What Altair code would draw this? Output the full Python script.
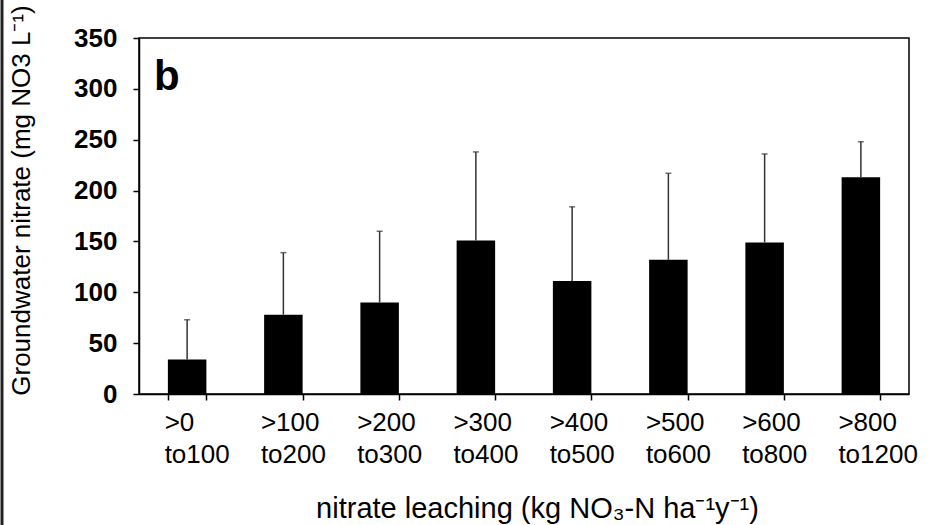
import altair as alt
import pandas as pd

categories = [">0|to100", ">100|to200", ">200|to300", ">300|to400",
              ">400|to500", ">500|to600", ">600|to800", ">800|to1200"]
means = [34, 78, 90, 151, 111, 132, 149, 213]
upper = [73, 139, 160, 238, 184, 217, 236, 248]
panel_label = ["b"]

df = pd.DataFrame({"cat": categories, "mean": means, "upper": upper})

W, H = 770, 356
FONT = "Liberation Sans"

x = alt.X("cat:N", sort=categories,
          scale=alt.Scale(paddingInner=0.6, paddingOuter=0.3),
          axis=alt.Axis(title="nitrate leaching (kg NO\u2083-N ha\u207b\u00b9y\u207b\u00b9)",
                        labelExpr="split(datum.label, '|')",
                        labelAngle=0, labelFontSize=26, labelLineHeight=32,
                        labelPadding=9, labelBaseline="top",
                        labelAlign="left", labelOffset=-23,
                        tickBand="extent", tickSize=6,
                        titleFontSize=29, titleFontWeight="normal",
                        titleX=398, titleY=123, titleBaseline="alphabetic",
                        titleAlign="center"))
y = alt.Y("mean:Q",
          scale=alt.Scale(domain=[0, 350]),
          axis=alt.Axis(title="Groundwater nitrate (mg NO3 L\u207b\u00b9)",
                        values=[0, 50, 100, 150, 200, 250, 300, 350],
                        labelFontSize=26, labelFontWeight="bold",
                        labelPadding=16, tickSize=6, grid=False,
                        titleFontSize=26, titleFontWeight="normal",
                        titleX=-118, titleY=162, titleAngle=-90,
                        titleAlign="center", titleBaseline="middle"))

bars = alt.Chart(df).mark_bar(color="black").encode(x=x, y=y)
err = alt.Chart(df).mark_rule(color="#333", strokeWidth=1.5).encode(
    x=alt.X("cat:N", sort=categories), y="mean:Q", y2="upper:Q")
caps = alt.Chart(df).mark_tick(color="#333", thickness=1.5, size=6).encode(
    x=alt.X("cat:N", sort=categories), y="upper:Q")
label = alt.Chart(pd.DataFrame({"t": panel_label})).mark_text(
    fontSize=42, fontWeight="bold", font=FONT, color="black",
    align="left", baseline="alphabetic").encode(
    text="t:N", x=alt.value(15), y=alt.value(52))
border = alt.Chart(pd.DataFrame({"t": panel_label})).mark_rule(
    color="#222", strokeWidth=3).encode(
    x=alt.value(-137), y=alt.value(-40), y2=alt.value(H + 140))

chart = alt.layer(bars, err, caps, label, border).properties(
    width=W, height=H,
    autosize=alt.AutoSizeParams(type="none"),
    padding={"left": 139, "top": 38, "right": 35, "bottom": 131},
).configure(font=FONT).configure_view(
    stroke="black", strokeWidth=1.5
).configure_axis(
    domainColor="black", domainWidth=1.5, tickColor="black", tickWidth=1.5,
    labelColor="black", titleColor="black", labelFont=FONT, titleFont=FONT
)

chart.save("out.html", embed_options={"renderer": "svg", "actions": False})
